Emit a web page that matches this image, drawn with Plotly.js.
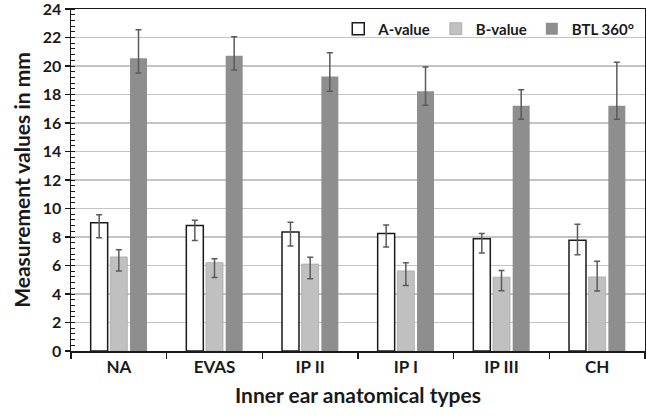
<!DOCTYPE html>
<html>
<head>
<meta charset="utf-8">
<script src="https://cdn.plot.ly/plotly-3.0.1.min.js"></script>
<style>html,body{margin:0;padding:0;background:#fff;}#chart{width:646px;height:417px;}</style>
</head>
<body>
<div id="chart"></div>
<script>
const categories = ["NA", "EVAS", "IP II", "IP I", "IP III", "CH"];
const seriesNames = ["A-value", "B-value", "BTL 360°"];
const aValues = [9.0, 8.8, 8.35, 8.25, 7.87, 7.78];
const aErrPlus = [0.57, 0.38, 0.69, 0.6, 0.38, 1.12];
const aErrMinus = [1.06, 1.04, 0.98, 0.95, 0.99, 1.02];
const bValues = [6.6, 6.2, 6.1, 5.62, 5.18, 5.2];
const bErrPlus = [0.5, 0.28, 0.48, 0.58, 0.47, 1.1];
const bErrMinus = [0.98, 1.04, 1.03, 1.02, 0.95, 0.99];
const btlValues = [20.55, 20.72, 19.26, 18.22, 17.21, 17.21];
const btlErrPlus = [1.99, 1.33, 1.67, 1.71, 1.12, 3.05];
const btlErrMinus = [1.04, 1.0, 1.04, 0.98, 0.95, 0.95];

const FONT = "Lato, 'Open Sans', sans-serif";
function err(plus, minus) {
  return {type: "data", symmetric: false, array: plus, arrayminus: minus,
          color: "#5a5a5a", thickness: 1.5, width: 3};
}
const traces = [
  {type: "bar", name: seriesNames[0], x: categories, y: aValues,
   marker: {color: "#ffffff", line: {color: "#1a1a1a", width: 1.5}},
   error_y: err(aErrPlus, aErrMinus)},
  {type: "bar", name: seriesNames[1], x: categories, y: bValues,
   marker: {color: "#c0c0c0", line: {color: "#a8a8a8", width: 0.8}},
   error_y: err(bErrPlus, bErrMinus)},
  {type: "bar", name: seriesNames[2], x: categories, y: btlValues,
   marker: {color: "#8e8e8e", line: {width: 0}},
   error_y: err(btlErrPlus, btlErrMinus)}
];
const layout = {
  width: 646, height: 417,
  margin: {l: 71, r: 1, t: 9, b: 66},
  paper_bgcolor: "#fff", plot_bgcolor: "#fff",
  font: {family: FONT, color: "#1a1a1a"},
  barmode: "group", bargap: 0.383, bargroupgap: 0.137,
  showlegend: true,
  legend: {orientation: "h", x: 0.99, xanchor: "right", y: 0.99, yanchor: "top",
           font: {family: FONT, size: 15, color: "#1a1a1a", weight: "bold"},
           bgcolor: "rgba(255,255,255,0)", traceorder: "normal", itemwidth: 30},
  xaxis: {
    type: "category", tickson: "boundaries", ticks: "outside", ticklen: 6, tickwidth: 1.2, tickcolor: "#1a1a1a",
    showline: true, linecolor: "#1a1a1a", linewidth: 1.5, mirror: true,
    showgrid: false, zeroline: false,
    tickfont: {family: FONT, size: 17, color: "#1a1a1a", weight: "bold"},
    title: {text: "Inner ear anatomical types", standoff: 12,
            font: {family: FONT, size: 21, color: "#1a1a1a", weight: "bold"}}
  },
  yaxis: {
    range: [0, 24], dtick: 2, ticks: "outside", ticklen: 5, tickwidth: 1.2, tickcolor: "#1a1a1a",
    ticklabeloverflow: "allow",
    showline: true, linecolor: "#1a1a1a", linewidth: 1.5, mirror: true,
    showgrid: true, gridcolor: "#c4c4c4", gridwidth: 1.5, zeroline: false,
    minor: {dtick: 0.4, ticks: "inside", ticklen: 4, tickcolor: "#1a1a1a", tickwidth: 1, showgrid: false},
    tickfont: {family: FONT, size: 16, color: "#1a1a1a", weight: "bold"},
    title: {text: "Measurement values in mm", standoff: 6,
            font: {family: FONT, size: 21, color: "#1a1a1a", weight: "bold"}}
  }
};
Plotly.newPlot("chart", traces, layout, {displayModeBar: false, staticPlot: true});
</script>
</body>
</html>
